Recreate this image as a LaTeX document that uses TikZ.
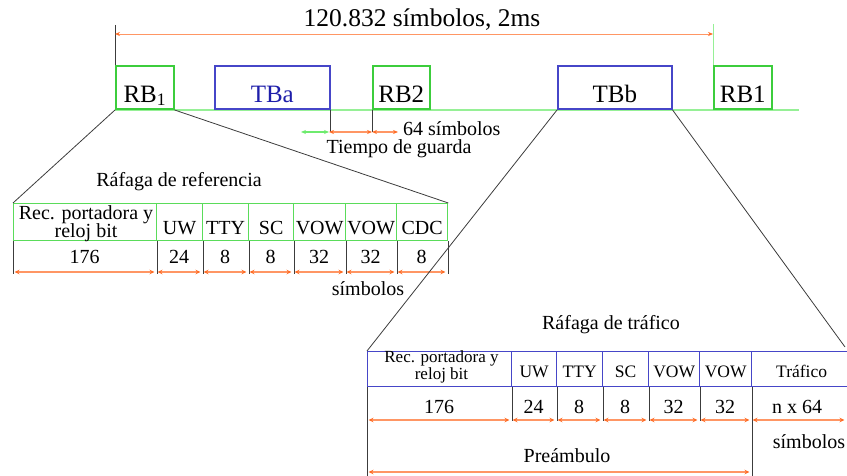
\documentclass[tikz,border=0pt]{standalone}
\usepackage{fontspec}
\setmainfont{Liberation Serif}
\usetikzlibrary{arrows.meta}
\definecolor{boxgreen}{RGB}{60,205,60}
\definecolor{basegreen}{RGB}{150,240,150}
\definecolor{tabgreen}{RGB}{90,220,90}
\definecolor{garrow}{RGB}{110,235,110}
\definecolor{boxblue}{RGB}{70,70,200}
\definecolor{textblue}{RGB}{30,30,170}
\definecolor{oline}{RGB}{255,150,100}
\definecolor{ohead}{RGB}{255,110,40}
\definecolor{dline}{RGB}{60,60,60}
\newcommand\fsz[1]{\fontsize{#1pt}{#1pt}\selectfont}
\begin{document}
\begin{tikzpicture}[x=1pt,y=-1pt,
  oarr/.style={draw=oline, line width=1.3pt, {Stealth[length=5pt,width=4.5pt,color=ohead]}-{Stealth[length=5pt,width=4.5pt,color=ohead]}, shorten >=1.5pt, shorten <=1.5pt},
  topArr/.style={draw=oline, line width=0.8pt, {Stealth[length=5pt,width=4pt,color=ohead]}-{Stealth[length=5pt,width=4pt,color=ohead]}},
  garr/.style={draw=garrow, line width=1.1pt, {Stealth[length=5pt,width=4pt]}-{Stealth[length=5pt,width=4pt]}},
  gsarr/.style={draw=oline, line width=1.1pt, {Stealth[length=5pt,width=4pt,color=ohead]}-{Stealth[length=5pt,width=4pt,color=ohead]}},
  dl/.style={draw=dline, line width=0.9pt},
  slant/.style={draw=dline, line width=0.8pt},
  bigbox/.style={line width=1.6pt, minimum height=43pt, inner sep=0pt, text height=29pt, text depth=0pt, anchor=south west, font=\fsz{25}},
  rbbox/.style={bigbox, draw=boxgreen},
  tbbox/.style={bigbox, draw=boxblue},
  rcell/.style={draw=tabgreen, line width=1.3pt, minimum height=37pt, inner sep=0pt, anchor=north west, text height=25pt, text depth=0pt, font=\fsz{20}},
  tcell/.style={draw=boxblue, line width=1.3pt, minimum height=35pt, inner sep=0pt, anchor=north west, text height=17pt, text depth=0pt, font=\fsz{17.5}},
  lbl/.style={anchor=base, inner sep=0pt, font=\fsz{20}},
  slbl/.style={anchor=base, inner sep=0pt, font=\fsz{17}}
]
\useasboundingbox (0,0) rectangle (847,476);

% ---------- top frame ----------
\coordinate (bl0) at (115,110);
\coordinate (bl1) at (799,110);
\coordinate (ltop) at (115,25);
\coordinate (rtop) at (713,24);
\coordinate (ta0) at (115,34);
\coordinate (ta1) at (713,34);
\draw[basegreen, line width=1.2pt] (bl0) -- (bl1);
\draw[dl] (ltop) -- (bl0);
\node[anchor=base, inner sep=0pt, font=\fsz{25.5}] (title) at (422,27) {120.832 símbolos, 2ms};
\draw[topArr] (ta0) -- (ta1);

\node[rbbox, minimum width=58pt] (rbA) at (115,110) {RB\textsubscript{1}};
\node[tbbox, minimum width=115pt, text=textblue] (tba) at (214,110) {TBa};
\node[rbbox, minimum width=57pt] (rbB) at (372,110) {RB2};
\node[tbbox, minimum width=114pt] (tbb) at (557,110) {TBb};
\node[rbbox, minimum width=58pt] (rbC) at (713,110) {RB1};
\draw[basegreen, line width=1pt] (rtop) -- (rbC.north west);

% ---------- guard time ----------
\draw[dl] (tba.south east) -- ++(0,22);
\draw[dl] (rbB.south west) -- ++(0,22);
\coordinate (g0) at (301,132);
\coordinate (g1) at (329,132);
\coordinate (g2) at (372,132);
\coordinate (g3) at (398,132);
\draw[garr] (g0) -- (g1);
\draw[gsarr] (g1) -- (g2);
\draw[gsarr] (g2) -- (g3);
\node[lbl, anchor=base west] (g64) at (403,136) {64 símbolos};
\node[lbl] (guard) at (399,154) {Tiempo de guarda};

% ---------- reference burst ----------
\node[lbl] (rtitle) at (179,187) {Ráfaga de referencia};
\node[rcell, minimum width=143pt] (r1) at (13,203) {};
\node[rcell, minimum width=46pt] (r2) at (156,203) {UW};
\node[rcell, minimum width=46pt] (r3) at (202,203) {TTY};
\node[rcell, minimum width=45pt] (r4) at (248,203) {SC};
\node[rcell, minimum width=52pt] (r5) at (293,203) {VOW};
\node[rcell, minimum width=51pt] (r6) at (345,203) {VOW};
\node[rcell, minimum width=51pt] (r7) at (396,203) {CDC};
\node[lbl] (r1a) at (86,219) {Rec. portadora y};
\node[lbl] (r1b) at (86,238) {reloj bit};

\draw[dl] (r1.south west) -- ++(0,33);
\foreach \c in {r1,r2,r3,r4,r5,r6,r7} { \draw[dl] (\c.south east) -- ++(0,33); }

\node[lbl] (v1) at (84.5,263) {176};
\node[lbl] (v2) at (179,263) {24};
\node[lbl] (v3) at (225,263) {8};
\node[lbl] (v4) at (270.5,263) {8};
\node[lbl] (v5) at (319,263) {32};
\node[lbl] (v6) at (370.5,263) {32};
\node[lbl] (v7) at (421.5,263) {8};

\coordinate (a0) at (13,272);
\coordinate (a1) at (156,272);
\coordinate (a2) at (202,272);
\coordinate (a3) at (248,272);
\coordinate (a4) at (293,272);
\coordinate (a5) at (345,272);
\coordinate (a6) at (396,272);
\coordinate (a7) at (447,272);
\draw[oarr] (a0) -- (a1);
\draw[oarr] (a1) -- (a2);
\draw[oarr] (a2) -- (a3);
\draw[oarr] (a3) -- (a4);
\draw[oarr] (a4) -- (a5);
\draw[oarr] (a5) -- (a6);
\draw[oarr] (a6) -- (a7);
\node[lbl] (rsym) at (368,295) {símbolos};

\draw[slant] (rbA.south west) -- (r1.north west);
\draw[slant] (rbA.south east) -- (r7.north east);

% ---------- traffic burst ----------
\node[lbl] (ttitle) at (611,329) {Ráfaga de tráfico};
\node[tcell, minimum width=144pt] (t1) at (367,351) {};
\node[tcell, minimum width=45pt] (t2) at (511,351) {UW};
\node[tcell, minimum width=46pt] (t3) at (556,351) {TTY};
\node[tcell, minimum width=46pt] (t4) at (602,351) {SC};
\node[tcell, minimum width=51pt] (t5) at (648,351) {VOW};
\node[tcell, minimum width=52pt] (t6) at (699,351) {VOW};
\node[tcell, minimum width=100pt] (t7) at (751,351) {Tráfico};
\node[slbl] (t1a) at (441.5,362) {Rec. portadora y};
\node[slbl] (t1b) at (441.5,379) {reloj bit};

\draw[dl] (t1.south west) -- ++(0,90);
\foreach \c in {t1,t2,t3,t4,t5} { \draw[dl] (\c.south east) -- ++(0,34); }
\draw[dl] (t6.south east) -- ++(0,90);

\node[lbl] (w1) at (439,413) {176};
\node[lbl] (w2) at (533.5,413) {24};
\node[lbl] (w3) at (579,413) {8};
\node[lbl] (w4) at (625,413) {8};
\node[lbl] (w5) at (673.5,413) {32};
\node[lbl] (w6) at (725,413) {32};
\node[lbl] (w7) at (797,413) {n x 64};

\coordinate (b0) at (367,420);
\coordinate (b1) at (511,420);
\coordinate (b2) at (556,420);
\coordinate (b3) at (602,420);
\coordinate (b4) at (648,420);
\coordinate (b5) at (699,420);
\coordinate (b6) at (751,420);
\coordinate (b7) at (846,420);
\draw[oarr] (b0) -- (b1);
\draw[oarr] (b1) -- (b2);
\draw[oarr] (b2) -- (b3);
\draw[oarr] (b3) -- (b4);
\draw[oarr] (b4) -- (b5);
\draw[oarr] (b5) -- (b6);
\draw[oarr] (b6) -- (b7);
\node[lbl] (tsym) at (809,448) {símbolos};

\coordinate (p0) at (367,472);
\coordinate (p1) at (751,472);
\draw[oarr] (p0) -- (p1);
\node[lbl] (pre) at (567,462) {Preámbulo};

\coordinate (tr) at (845,347);
\draw[slant] (tbb.south west) -- (t1.north west);
\draw[slant] (tbb.south east) -- (tr);
\end{tikzpicture}
\end{document}
